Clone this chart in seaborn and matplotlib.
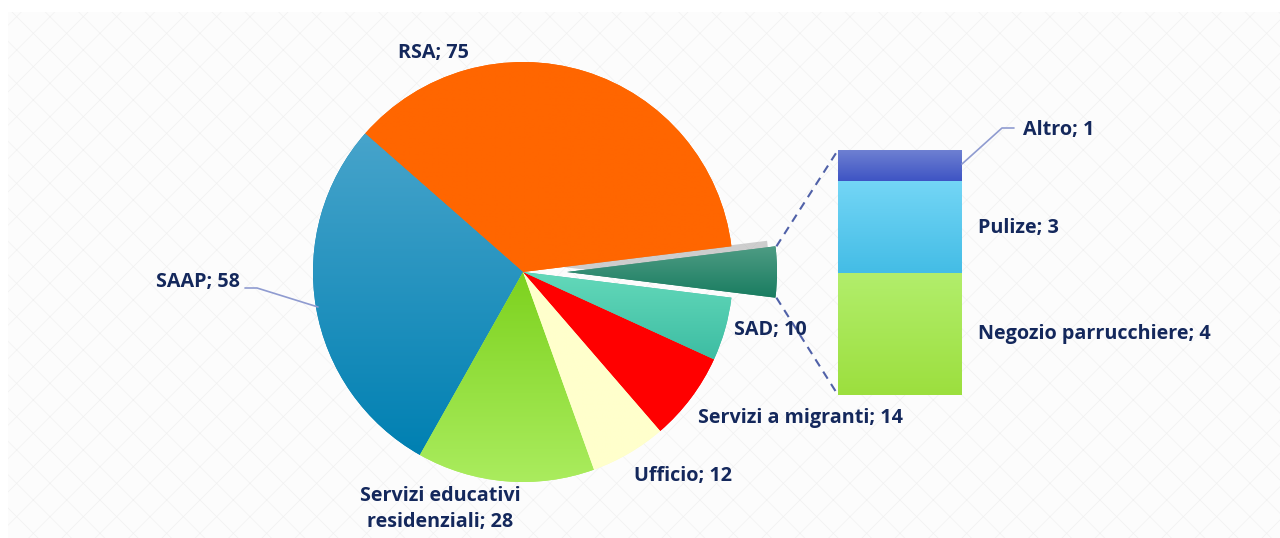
import numpy as np
import matplotlib
matplotlib.use("Agg")
import matplotlib.pyplot as plt
import seaborn as sns
from matplotlib.patches import Rectangle, Shadow
from matplotlib.colors import LinearSegmentedColormap

# %% Dati
categorie_torta = ["Altro_tot", "RSA", "SAAP", "Servizi educativi\nresidenziali",
                   "Ufficio", "Servizi a migranti", "SAD"]
valori_barra = [4, 3, 1]
etichette_barra = ["Negozio parrucchiere", "Pulize", "Altro"]
valori_torta = [sum(valori_barra), 75, 58, 28, 12, 14, 10]

# colori (alto, basso) per fare il gradiente verticale
colori_torta = [("#4E9C84", "#197C60"), ("#FF6600", "#FF6600"), ("#47A4CB", "#0080B2"),
                ("#7DD21E", "#AAEC5E"), ("#FFFFCC", "#FFFFCC"), ("#FF0000", "#FF0000"),
                ("#64D9BA", "#3DBDA3")]
colori_barra = [("#B2EE6C", "#9CDF3E"), ("#74D6F6", "#44BDE6"), ("#6E80D2", "#3E54C4")]
testo = "#14285C"

# %% Figura
sns.set_theme(style="white")
plt.rcParams["font.family"] = ["Open Sans", "DejaVu Sans"]
plt.rcParams["hatch.linewidth"] = 0.5

fig = plt.figure(figsize=(12.8, 5.38), dpi=100)
ax = fig.add_axes([0, 0, 1, 1])

# sfondo leggermente retinato
ax.add_patch(Rectangle((8, 0), 1272, 526, facecolor="#fcfcfc", edgecolor="#f1f1f1",
                       hatch="x", linewidth=0, zorder=0))

tot = sum(valori_torta)
start = -valori_torta[0] / tot * 360 / 2
explode = [44] + [0] * (len(valori_torta) - 1)   # offset in pixel
wedges, _ = ax.pie(valori_torta, colors=[c[1] for c in colori_torta], startangle=start,
                   counterclock=True, radius=210, center=(523, 266),
                   explode=explode, wedgeprops=dict(linewidth=0), frame=True)

# ombra dello spicchio staccato (si vede solo nello spazio vuoto)
ombra = Shadow(wedges[0], -6, 4, facecolor="#a8a8a8", alpha=0.55, linewidth=0)
ombra.set_zorder(1.05)
ax.add_patch(ombra)

# barra di dettaglio
scala = 245 / sum(valori_barra)
basi = np.concatenate([[0], np.cumsum(valori_barra)[:-1]]) * scala + 143
barre = ax.bar([900] * len(valori_barra), np.array(valori_barra) * scala, bottom=basi,
               width=124, color=[c[1] for c in colori_barra], linewidth=0, zorder=3)


def gradiente(p, alto, basso):
    # riempio la patch con un gradiente verticale
    bb = p.get_patch_transform().transform_path(p.get_path()).get_extents()
    cmap = LinearSegmentedColormap.from_list("g", [alto, basso])
    im = ax.imshow(np.linspace(0, 1, 256).reshape(-1, 1), cmap=cmap, aspect="auto",
                   extent=[bb.x0, bb.x1, bb.y0, bb.y1], origin="upper",
                   zorder=p.get_zorder() + 0.1, interpolation="bilinear")
    im.set_clip_path(p)


for p, (a, b) in zip(wedges, colori_torta):
    gradiente(p, a, b)
for p, (a, b) in zip(barre, colori_barra):
    gradiente(p, a, b)

ax.set_xlim(0, 1280)
ax.set_ylim(0, 538)
ax.set_aspect("equal")
ax.axis("off")

# linee tratteggiate tra spicchio e barra
w = wedges[0]
cx, cy = w.center
for ang, yb in [(w.theta2, 143 + sum(valori_barra) * scala), (w.theta1, 143)]:
    xs = cx + w.r * np.cos(np.radians(ang))
    ys = cy + w.r * np.sin(np.radians(ang))
    ax.plot([xs + 1, 838], [ys, yb], ls=(0, (4, 3)), color="#5061A8", lw=1.5, zorder=2)

fs = 14.2
kw = dict(color=testo, fontsize=fs, fontweight="bold", zorder=5)

ax.text(433, 538 - 53, f"RSA; {valori_torta[1]}", ha="center", va="center", **kw)
ax.text(198, 538 - 282, f"SAAP; {valori_torta[2]}", ha="center", va="center", **kw)
ax.plot([245, 257, 318], [538 - 288, 538 - 288, 538 - 307], color="#8F9BD0", lw=1.2, zorder=4)
ax.text(440, 538 - 509, f"{categorie_torta[3]}; {valori_torta[3]}", ha="center",
        va="center", linespacing=1.4, **kw)
ax.text(683, 538 - 476, f"{categorie_torta[4]}; {valori_torta[4]}", ha="center", va="center", **kw)
ax.text(800, 538 - 418, f"{categorie_torta[5]}; {valori_torta[5]}", ha="center", va="center", **kw)
ax.text(770, 538 - 330, f"{categorie_torta[6]}; {valori_torta[6]}", ha="center", va="center", **kw)

# etichette barra
ax.text(1023, 538 - 130, f"{etichette_barra[2]}; {valori_barra[2]}", ha="left", va="center", **kw)
ax.plot([962, 1002, 1014], [538 - 164, 538 - 128, 538 - 128], color="#8F9BD0", lw=1.2, zorder=4)
ax.text(978, 538 - 228, f"{etichette_barra[1]}; {valori_barra[1]}", ha="left", va="center", **kw)
ax.text(978, 538 - 334, f"{etichette_barra[0]}; {valori_barra[0]}", ha="left", va="center", **kw)

fig.savefig("out.png", dpi=100, facecolor="white")
